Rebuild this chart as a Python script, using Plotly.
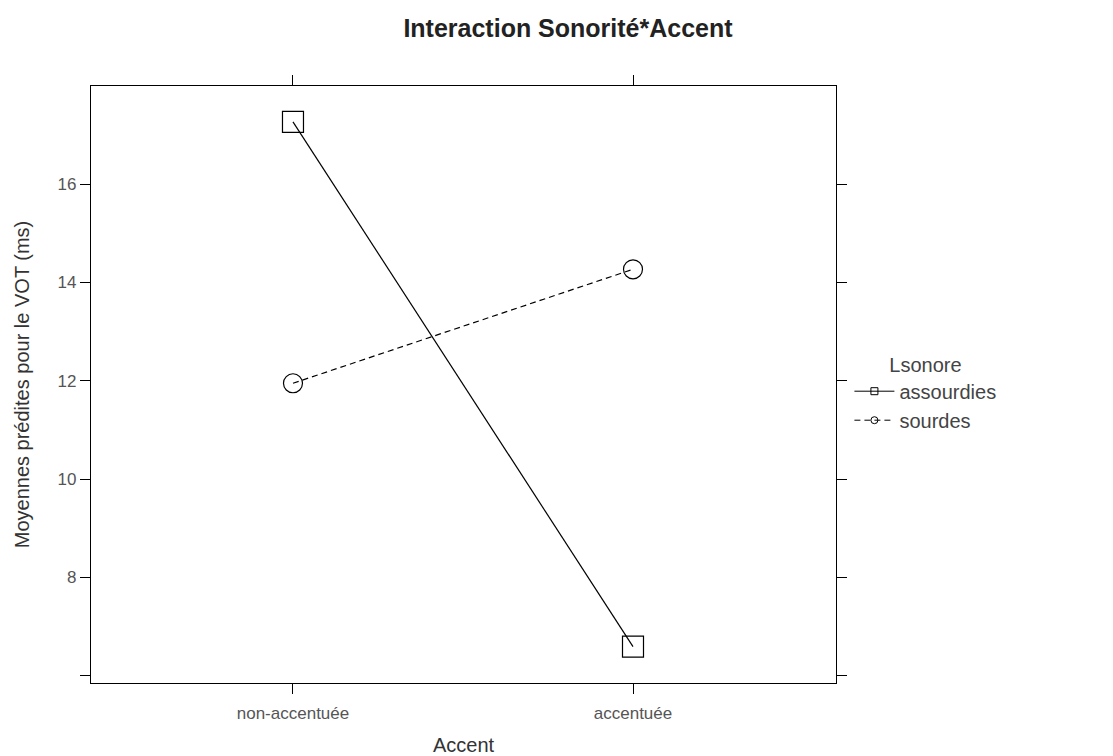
import plotly.graph_objects as go

categories = ["non-accentuée", "accentuée"]
series_names = ["assourdies", "sourdes"]
assourdies = [17.27, 6.59]
sourdes = [11.95, 14.27]
y_tickvals = [6, 8, 10, 12, 14, 16]
y_ticktext = ["", "8", "10", "12", "14", "16"]

FONT = "Liberation Sans, Arial, sans-serif"
dashes = ["solid", "6px,4px"]
symbols = ["square-open", "circle-open"]
sizes = [21, 19]

fig = go.Figure()
for name, vals, dash, sym, sz in zip(series_names, [assourdies, sourdes], dashes, symbols, sizes):
    fig.add_trace(go.Scatter(
        x=categories, y=vals, name=name, mode="lines+markers", showlegend=False,
        line=dict(color="black", width=1.2, dash=dash),
        marker=dict(symbol=sym, size=sz, color="black", line=dict(width=1.2)),
    ))
# legend keys (small symbols, thin lines) without data
for name, dash, sym in zip(series_names, dashes, symbols):
    fig.add_trace(go.Scatter(
        x=[None], y=[None], name=name, mode="lines+markers", showlegend=True,
        line=dict(color="black", width=1, dash=dash),
        marker=dict(symbol=sym, size=7, color="black", line=dict(width=1)),
    ))

fig.update_layout(
    width=1113, height=756,
    margin=dict(l=91, r=277, t=86, b=73, autoexpand=False),
    paper_bgcolor="white", plot_bgcolor="white",
    font=dict(family=FONT, color="#333"),
    title=dict(text="<b>Interaction Sonorité*Accent</b>", x=568/1113, xanchor="center",
               y=1 - 28/756, yanchor="middle", xref="container", yref="container",
               font=dict(family=FONT, size=25, color="#222")),
    showlegend=True,
    legend=dict(
        title=dict(text="Lsonore", font=dict(size=20, color="#444"), side="top center"),
        x=1.018, xanchor="left", y=0.565, yanchor="top",
        font=dict(size=20, color="#444"), itemwidth=40,
        bgcolor="rgba(0,0,0,0)", tracegroupgap=0,
    ),
)
fig.update_xaxes(
    type="category", range=[-0.594, 1.597], automargin=False,
    showline=True, linecolor="black", linewidth=1.2, mirror="allticks",
    ticks="outside", ticklen=10, tickcolor="black", tickwidth=1,
    showgrid=False, zeroline=False,
    tickfont=dict(size=17, color="#555"), ticklabelstandoff=4,
    title=dict(text="Accent", font=dict(size=20, color="#333"), standoff=20),
)
fig.update_yaxes(
    range=[5.85, 18.0], tickvals=y_tickvals, ticktext=y_ticktext, automargin=False,
    showline=True, linecolor="black", linewidth=1.2, mirror="allticks",
    ticks="outside", ticklen=10, tickcolor="black", tickwidth=1,
    showgrid=False, zeroline=False,
    tickfont=dict(size=17, color="#555"),
    title=dict(text="Moyennes prédites pour le VOT (ms)", font=dict(size=20, color="#333"), standoff=22),
)

fig.write_html("out.html", config={"displayModeBar": False},
               post_script="document.body.style.margin='0px';")
